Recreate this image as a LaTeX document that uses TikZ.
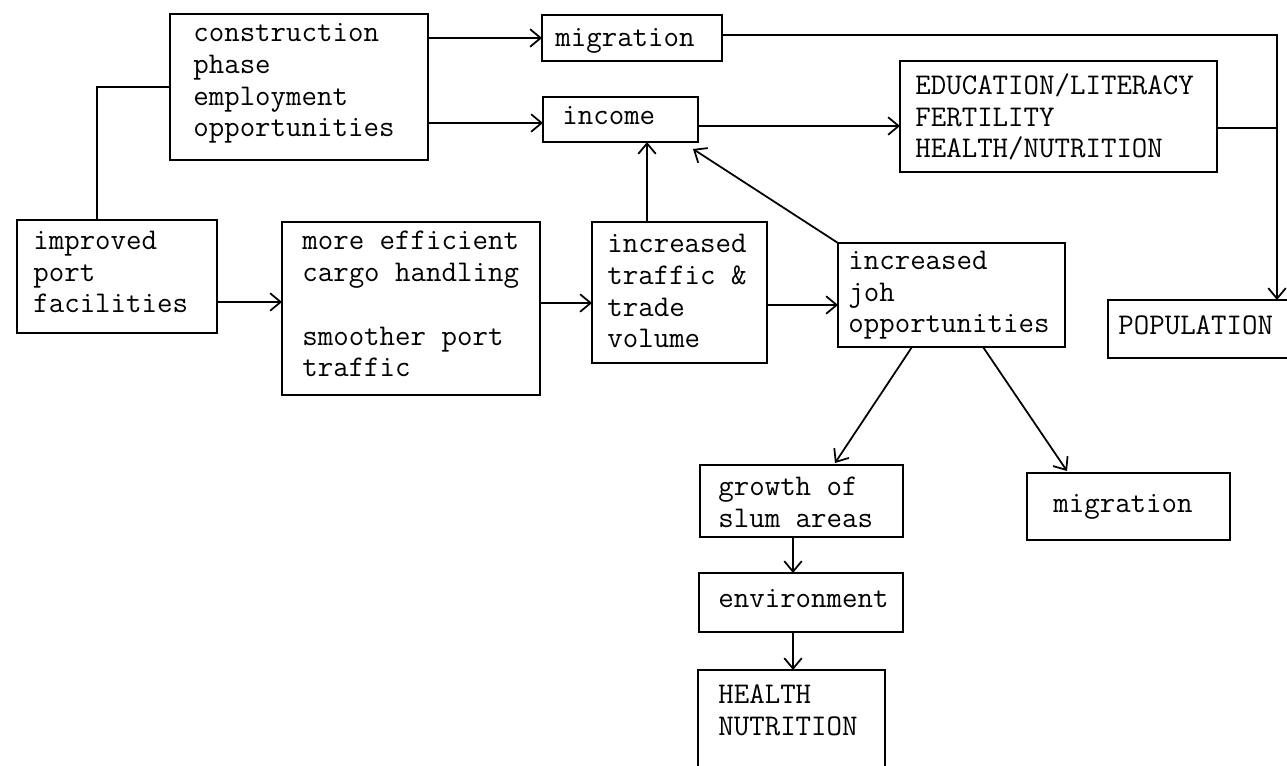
\documentclass[tikz,border=0pt]{standalone}
\usetikzlibrary{arrows.meta,calc}
\tikzset{
  box/.style={draw, line width=1pt, anchor=north west, inner sep=0pt, outer sep=0pt},
  txt/.style={anchor=base west, inner sep=0pt, align=left, font=\ttfamily\fontsize{17.1}{18.2}\selectfont},
  conn/.style={line width=1pt},
  arr/.style={line width=1pt, -{Straight Barb[length=6pt,width=10pt,line width=1pt]}}
}
\begin{document}
\begin{tikzpicture}[x=0.02cm,y=-0.02cm]
\clip (0,0) rectangle (1287,766);
\fill[white] (0,0) rectangle (1287,766);
% boxes
\node[box, minimum width=258*0.02cm, minimum height=146*0.02cm] (cons) at (170,14) {};
\node[box, minimum width=200*0.02cm, minimum height=113*0.02cm] (imp) at (17,220) {};
\node[box, minimum width=258*0.02cm, minimum height=173*0.02cm] (eff) at (282,222) {};
\node[box, minimum width=180*0.02cm, minimum height=46*0.02cm] (mig1) at (542,15) {};
\node[box, minimum width=155*0.02cm, minimum height=45*0.02cm] (inc) at (543,97) {};
\node[box, minimum width=175*0.02cm, minimum height=141*0.02cm] (traf) at (592,222) {};
\node[box, minimum width=227*0.02cm, minimum height=104*0.02cm] (job) at (838,243) {};
\node[box, minimum width=317*0.02cm, minimum height=111*0.02cm] (edu) at (900,61) {};
\node[box, minimum width=187*0.02cm, minimum height=58*0.02cm] (pop) at (1108,300) {};
\node[box, minimum width=203*0.02cm, minimum height=72*0.02cm] (slum) at (700,465) {};
\node[box, minimum width=203*0.02cm, minimum height=67*0.02cm] (mig2) at (1027,473) {};
\node[box, minimum width=204*0.02cm, minimum height=59*0.02cm] (env) at (699,573) {};
\node[box, minimum width=187*0.02cm, minimum height=130*0.02cm] (hn) at (698,670) {};
% texts (anchored at the baseline of the last line)
\node[txt] (cons-t) at (193,137) {construction\\phase\\employment\\opportunities};
\node[txt] (imp-t) at (33,313) {improved\\port\\facilities};
\node[txt] (eff-t) at (302,377) {more efficient\\cargo handling\\[18.2pt]smoother port\\traffic};
\node[txt] (mig1-t) at (555,47) {migration};
\node[txt] (inc-t) at (562,125) {income};
\node[txt] (traf-t) at (607,348) {increased\\traffic \&\\trade\\volume};
\node[txt] (job-t) at (848,333) {increased\\joh\\opportunities};
\node[txt] (edu-t) at (915,158) {EDUCATION/LITERACY\\FERTILITY\\HEALTH/NUTRITION};
\node[txt] (pop-t) at (1118,335) {POPULATION};
\node[txt] (slum-t) at (718,527) {growth of\\slum areas};
\node[txt] (mig2-t) at (1053,512) {migration};
\node[txt] (env-t) at (718,607) {environment};
\node[txt] (hn-t) at (718,735) {HEALTH\\NUTRITION};
% connectors
\coordinate (c1) at ($(imp.north west)+(80,0)$);
\draw[conn] (c1) |- (cons.west);
\draw[arr] (cons.east |- mig1.west) -- (mig1.west);
\coordinate (a0) at ($(cons.north east)+(0,109)$);
\draw[arr] (a0) -- (a0 -| inc.west);
\coordinate (a1) at ($(imp.south east)+(0,-31)$);
\draw[arr] (a1) -- (a1 -| eff.west);
\coordinate (a2) at ($(eff.north east)+(0,81)$);
\draw[arr] (a2) -- (a2 -| traf.west);
\coordinate (a3) at ($(traf.north east)+(0,83)$);
\draw[arr] (a3) -- (a3 -| job.west);
\coordinate (a4) at ($(traf.north west)+(55,0)$);
\draw[arr] (a4) -- (a4 |- inc.south);
\coordinate (a5) at ($(inc.south east)+(-5,7)$);
\draw[arr] (job.north west) -- (a5);
\coordinate (a6) at ($(inc.north east)+(0,29)$);
\draw[arr] (a6) -- (a6 -| edu.west);
\coordinate (a7) at ($(mig1.north east)+(0,20)$);
\coordinate (a8) at ($(pop.north west)+(169,0)$);
\draw[arr] (a7) -| (a8);
\coordinate (a9) at ($(edu.north east)+(0,67)$);
\draw[conn] (a9) -- (a9 -| a8);
\coordinate (b1) at ($(job.south west)+(74,0)$);
\coordinate (b2) at ($(slum.north west)+(135,-2)$);
\draw[arr] (b1) -- (b2);
\coordinate (b3) at ($(job.south west)+(145,0)$);
\coordinate (b4) at ($(mig2.north west)+(40,-2)$);
\draw[arr] (b3) -- (b4);
\coordinate (b5) at ($(slum.south west)+(93,0)$);
\draw[arr] (b5) -- (b5 |- env.north);
\coordinate (b6) at ($(env.south west)+(94,0)$);
\draw[arr] (b6) -- (b6 |- hn.north);
\end{tikzpicture}
\end{document}
